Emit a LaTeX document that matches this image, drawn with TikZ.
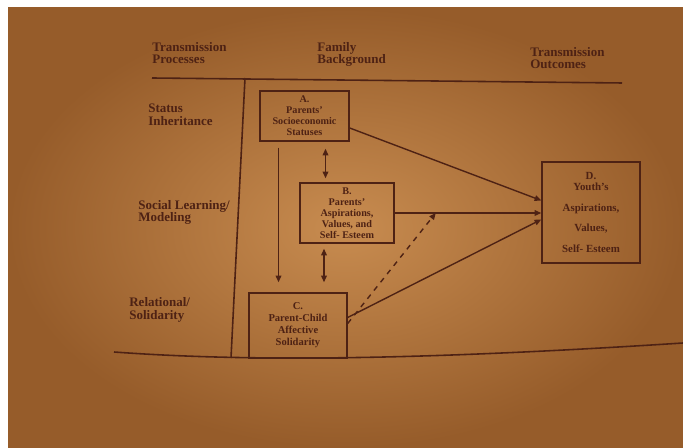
\documentclass[tikz,border=0pt]{standalone}
\usepackage{fontspec}
\setmainfont{Liberation Serif}
\usetikzlibrary{arrows.meta}
\usetikzlibrary{calc}
\definecolor{paper}{RGB}{200,140,80}
\definecolor{paperedge}{RGB}{150,92,42}
\definecolor{ink}{RGB}{78,34,20}

\begin{document}
\begin{tikzpicture}[
      x=0.02cm, y=-0.02cm,
      box/.style={rectangle, draw=ink, line width=0.8pt, align=center, inner sep=1pt, text=ink, font=\bfseries\fontsize{5.8}{6.2}\selectfont},
      head/.style={anchor=west, align=left, inner sep=0pt, text=ink, font=\bfseries\fontsize{7.4}{7.3}\selectfont},
      arrow/.style={-{Triangle[length=3.8pt,width=3.2pt]}, draw=ink, line width=0.8pt},
      both/.style={{Triangle[length=3.8pt,width=3.2pt]}-{Triangle[length=3.8pt,width=3.2pt]}, draw=ink, line width=0.8pt},
      rule/.style={draw=ink, line width=0.9pt}
    ]
      % Paper
      \fill[white] (0,0) rectangle (683,448);
      \shade[inner color=paper, outer color=paperedge] (8,8) rectangle (683,448);
      \useasboundingbox (0,0) rectangle (683,448);

      % Column heads
      \node[head] (tp) at (152,53) {Transmission\\Processes};
      \node[head] (fb) at (317,54.5) {Family\\Background};
      \node[head] (to) at (530,58) {Transmission\\Outcomes};

      % Processes
      \node[head] (si) at (148,115) {Status\\Inheritance};
      \node[head] (sl) at (138,212.5) {Social Learning/\\Modeling};
      \node[head] (rs) at (129,309.5) {Relational/\\Solidarity};

      % Rules
      \draw[rule] (152,78) -- (622,83);
      \draw[rule] (245,78) -- (231,358);
      \draw[rule] (114,352) .. controls (250,362) and (420,360) .. (683,343);

      % Nodes
      \node[box, minimum width=1.78cm, minimum height=1.0cm] (A) at (304.5,116) {A.\\Parents'\\Socioeconomic\\Statuses};
      \node[box, minimum width=1.88cm, minimum height=1.2cm] (B) at (347,213) {B.\\Parents'\\Aspirations,\\Values, and\\Self- Esteem};
      \node[box, minimum width=1.96cm, minimum height=1.3cm, font=\bfseries\fontsize{6}{6.8}\selectfont] (C) at (298,325.5) {C.\\Parent-Child\\Affective\\Solidarity};
      \node[box, minimum width=1.96cm, minimum height=2.02cm, font=\bfseries\fontsize{6.2}{6.2}\selectfont] (D) at (591,212.5) {D.\\Youth's\\[5.7pt]Aspirations,\\[5.7pt]Values,\\[5.7pt]Self- Esteem};

      % Arrows
      \coordinate (ac) at ($(A.south)+(-26,6)$);
      \coordinate (ab) at ($(A.south)+(21,7)$);
      \coordinate (bc) at ($(B.south)+(-23,5)$);
      \coordinate (mid) at ($(B.east)!0.28!(B.east -| D.west)$);
      \draw[arrow] (ac) -- ([yshift=0.2cm]ac |- C.north);
      \draw[both] (ab) -- ([yshift=0.08cm]ab |- B.north);
      \draw[both] (bc) -- ([yshift=0.2cm]bc |- C.north);
      \draw[arrow] ([yshift=-0.24cm]A.east) -- ([yshift=0.24cm]D.west);
      \draw[arrow] (B.east) -- (B.east -| D.west);
      \draw[arrow] ([yshift=0.16cm]C.east) -- ([yshift=-0.14cm]D.west);
      \draw[arrow, dashed] ([yshift=0.04cm]C.east) -- (mid);

    \end{tikzpicture}
\end{document}
